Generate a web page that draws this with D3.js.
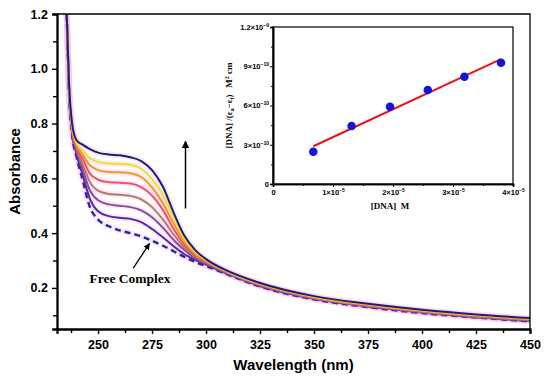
<!DOCTYPE html>
<html>
<head>
<meta charset="utf-8">
<script src="https://cdn.jsdelivr.net/npm/d3@7.9.0/dist/d3.min.js"></script>
<style>
  body { margin: 0; background: #fff; }
  svg { display: block; }
  .tick text { font-family: Arial, "Liberation Sans", sans-serif; font-weight: bold; }
</style>
</head>
<body>
<svg id="chart" width="550" height="381"></svg>
<script>
// titration spectra
let wavelengths = [235.5, 236.5, 238, 240, 243, 246, 250, 255, 260, 265, 270, 275, 280, 285, 290, 295, 300, 310, 325, 350, 375, 400, 425, 450];
let specNavy   = [1.2, 0.96, 0.80, 0.74, 0.722, 0.708, 0.694, 0.687, 0.684, 0.677, 0.663, 0.63, 0.57, 0.475, 0.39, 0.338, 0.305, 0.262, 0.218, 0.17, 0.142, 0.12, 0.103, 0.09];
let specYellow = [1.2, 0.955, 0.79, 0.73, 0.70, 0.675, 0.66, 0.654, 0.653, 0.65, 0.635, 0.597, 0.54, 0.455, 0.378, 0.331, 0.302, 0.26, 0.216, 0.168, 0.14, 0.118, 0.101, 0.088];
let specOrange = [1.2, 0.95, 0.785, 0.725, 0.685, 0.65, 0.63, 0.623, 0.622, 0.619, 0.605, 0.567, 0.51, 0.435, 0.368, 0.325, 0.298, 0.258, 0.214, 0.166, 0.138, 0.116, 0.099, 0.086];
let specRed    = [1.2, 0.945, 0.78, 0.715, 0.67, 0.62, 0.595, 0.586, 0.584, 0.581, 0.568, 0.537, 0.485, 0.415, 0.358, 0.32, 0.295, 0.256, 0.212, 0.164, 0.136, 0.114, 0.097, 0.084];
let specBrown  = [1.2, 0.94, 0.775, 0.71, 0.65, 0.59, 0.555, 0.543, 0.54, 0.536, 0.523, 0.495, 0.45, 0.395, 0.348, 0.314, 0.292, 0.255, 0.211, 0.163, 0.135, 0.113, 0.096, 0.083];
let specMauve  = [1.2, 0.935, 0.77, 0.70, 0.63, 0.56, 0.52, 0.505, 0.50, 0.495, 0.483, 0.458, 0.42, 0.375, 0.338, 0.308, 0.289, 0.253, 0.209, 0.161, 0.133, 0.111, 0.094, 0.081];
let specIndigo = [1.2, 0.93, 0.765, 0.69, 0.61, 0.53, 0.48, 0.462, 0.456, 0.452, 0.44, 0.415, 0.385, 0.352, 0.323, 0.302, 0.285, 0.251, 0.207, 0.16, 0.132, 0.11, 0.093, 0.08];
let specFree   = [1.2, 0.925, 0.76, 0.68, 0.59, 0.50, 0.45, 0.425, 0.41, 0.40, 0.388, 0.372, 0.354, 0.334, 0.313, 0.295, 0.28, 0.249, 0.205, 0.158, 0.13, 0.108, 0.092, 0.078];

let xTicks = [250, 275, 300, 325, 350, 375, 400, 425, 450];
let yTicks = [0.2, 0.4, 0.6, 0.8, 1.0, 1.2];

// inset: [DNA] vs [DNA]/(ea-ef)
let dnaConc = [0.672e-5, 1.31e-5, 1.95e-5, 2.58e-5, 3.19e-5, 3.80e-5];
let dnaRatio = [2.47e-10, 4.43e-10, 5.91e-10, 7.18e-10, 8.20e-10, 9.27e-10];
let insetXTicks = [0, 1e-5, 2e-5, 3e-5, 4e-5];
let insetXLabels = [['0', ''], ['1×10', '−5'], ['2×10', '−5'], ['3×10', '−5'], ['4×10', '−5']];
let insetYTicks = [0, 3e-10, 6e-10, 9e-10, 1.2e-9];
let insetYLabels = [['0', ''], ['3×10', '−10'], ['6×10', '−10'], ['9×10', '−10'], ['1.2×10', '−9']];

let series = [
  { values: specFree, color: '#26269e', dash: '6,4' },
  { values: specIndigo, color: '#5626a6' },
  { values: specMauve, color: '#8a4c9c' },
  { values: specBrown, color: '#b37a62' },
  { values: specRed, color: '#f2506a' },
  { values: specOrange, color: '#f79426' },
  { values: specYellow, color: '#e6e42c' },
  { values: specNavy, color: '#1c1c7c' },
];

const svg = d3.select('#chart');
const m = { left: 57, right: 530, top: 14, bottom: 329 };

let x = d3.scaleLinear().domain([231, 450]).range([m.left, m.right]);
let y = d3.scaleLinear().domain([0.05, 1.2]).range([m.bottom, m.top]);

svg.append('defs').append('clipPath').attr('id', 'clip')
  .append('rect').attr('x', m.left).attr('y', m.top)
  .attr('width', m.right - m.left).attr('height', m.bottom - m.top);

let arrowDefs = svg.select('defs');
arrowDefs.append('marker').attr('id', 'head')
  .attr('viewBox', '0 0 10 10').attr('refX', 9).attr('refY', 5)
  .attr('markerWidth', 5).attr('markerHeight', 6).attr('orient', 'auto')
  .append('path').attr('d', 'M0,0 L10,5 L0,10 z').attr('fill', '#000');

let line = d3.line()
  .x((d, i) => x(wavelengths[i]))
  .y((d) => y(d))
  .curve(d3.curveMonotoneX);

let plot = svg.append('g').attr('clip-path', 'url(#clip)');

// faint pink halo seen around the spectra
series.forEach((s) => {
  plot.append('path').attr('d', line(s.values))
    .attr('fill', 'none').attr('stroke', '#f6c6ee').attr('stroke-opacity', 0.35)
    .attr('stroke-width', 6);
});
series.forEach((s) => {
  plot.append('path').attr('d', line(s.values))
    .attr('fill', 'none').attr('stroke', s.color)
    .attr('stroke-width', s.dash ? 2.4 : 2)
    .attr('stroke-dasharray', s.dash || null);
});

// axes
let xAxis = svg.append('g').attr('transform', `translate(0,${m.bottom})`)
  .call(d3.axisBottom(x).tickValues(xTicks).tickSize(5).tickPadding(4));
let xMinor = svg.append('g').attr('transform', `translate(0,${m.bottom})`)
  .call(d3.axisBottom(x).tickValues(d3.range(237.5, 450, 25)).tickSize(4).tickFormat(''));
let yAxis = svg.append('g').attr('transform', `translate(${m.left},0)`)
  .call(d3.axisLeft(y).tickValues(yTicks).tickSize(5).tickPadding(4).tickFormat(d3.format('.1f')));
let yMinor = svg.append('g').attr('transform', `translate(${m.left},0)`)
  .call(d3.axisLeft(y).tickValues([0.1, 0.3, 0.5, 0.7, 0.9, 1.1]).tickSize(4).tickFormat(''));

[xAxis, xMinor, yAxis, yMinor].forEach((g) => {
  g.select('.domain').attr('stroke-width', 1.8);
  g.selectAll('.tick line').attr('stroke-width', 1.4);
});
xAxis.selectAll('.tick text').attr('font-size', 12.5).attr('dy', '0.9em');
yAxis.selectAll('.tick text').attr('font-size', 12.5);

// frame top + right
svg.append('path')
  .attr('d', `M${m.left},${m.top} H${m.right} V${m.bottom}`)
  .attr('fill', 'none').attr('stroke', '#000').attr('stroke-width', 1.3);

svg.append('text')
  .attr('x', (m.left + m.right) / 2).attr('y', 370)
  .attr('text-anchor', 'middle')
  .attr('font-family', 'Arial, sans-serif').attr('font-weight', 'bold').attr('font-size', 15)
  .text('Wavelength (nm)');
svg.append('text')
  .attr('transform', `translate(20,${(m.top + m.bottom) / 2}) rotate(-90)`)
  .attr('text-anchor', 'middle')
  .attr('font-family', 'Arial, sans-serif').attr('font-weight', 'bold').attr('font-size', 15)
  .text('Absorbance');

// arrows
svg.append('line')
  .attr('x1', x(290.5)).attr('y1', y(0.49)).attr('x2', x(290.5)).attr('y2', y(0.735))
  .attr('stroke', '#000').attr('stroke-width', 1.5).attr('marker-end', 'url(#head)');
svg.append('line')
  .attr('x1', x(266.3)).attr('y1', y(0.272)).attr('x2', x(273.8)).attr('y2', y(0.362))
  .attr('stroke', '#000').attr('stroke-width', 1.3).attr('marker-end', 'url(#head)');
svg.append('text')
  .attr('x', 130).attr('y', 283).attr('text-anchor', 'middle')
  .attr('font-family', '"Liberation Serif", "Times New Roman", serif')
  .attr('font-weight', 'bold').attr('font-size', 13.5)
  .text('Free Complex');

// ---- inset ----
const im = { left: 273, right: 513, top: 27, bottom: 184 };
let ix = d3.scaleLinear().domain([0, 4e-5]).range([im.left, im.right]);
let iy = d3.scaleLinear().domain([0, 1.2e-9]).range([im.bottom, im.top]);
let inset = svg.append('g');

inset.append('rect').attr('x', im.left).attr('y', im.top)
  .attr('width', im.right - im.left).attr('height', im.bottom - im.top)
  .attr('fill', '#fff').attr('stroke', '#000').attr('stroke-width', 1.2);

let ixAxis = inset.append('g').attr('transform', `translate(0,${im.bottom})`)
  .call(d3.axisBottom(ix).tickValues(insetXTicks).tickSize(3).tickPadding(2).tickFormat(''));
inset.append('g').attr('transform', `translate(0,${im.bottom})`)
  .call(d3.axisBottom(ix).tickValues([0.5e-5, 1.5e-5, 2.5e-5, 3.5e-5]).tickSize(2).tickFormat(''));
let iyAxis = inset.append('g').attr('transform', `translate(${im.left},0)`)
  .call(d3.axisLeft(iy).tickValues(insetYTicks).tickSize(3).tickPadding(2).tickFormat(''));
inset.append('g').attr('transform', `translate(${im.left},0)`)
  .call(d3.axisLeft(iy).tickValues([1.5e-10, 4.5e-10, 7.5e-10, 10.5e-10]).tickSize(2).tickFormat(''));
inset.selectAll('.domain').attr('stroke-width', 1.6);

// tick labels with superscript exponents
function supLabel(sel, lab) {
  sel.append('tspan').text(lab[0]);
  if (lab[1]) sel.append('tspan').attr('font-size', 5).attr('dy', -3).text(lab[1]);
}
ixAxis.selectAll('.tick').each(function (d, i) {
  let t = d3.select(this).append('text').attr('y', 11).attr('fill', '#000')
    .attr('text-anchor', 'middle').attr('font-size', 7.5);
  supLabel(t, insetXLabels[i]);
});
iyAxis.selectAll('.tick').each(function (d, i) {
  let t = d3.select(this).append('text').attr('x', -4).attr('dy', '0.32em').attr('fill', '#000')
    .attr('text-anchor', 'end').attr('font-size', 7.5);
  supLabel(t, insetYLabels[i]);
});

// least squares fit line
let mx = d3.mean(dnaConc), my = d3.mean(dnaRatio);
let sxy = d3.sum(dnaConc, (v, i) => (v - mx) * (dnaRatio[i] - my));
let sxx = d3.sum(dnaConc, (v) => (v - mx) * (v - mx));
let slope = sxy / sxx, icpt = my - slope * mx;
let xEnds = d3.extent(dnaConc);
inset.append('line')
  .attr('x1', ix(xEnds[0])).attr('y1', iy(icpt + slope * xEnds[0]))
  .attr('x2', ix(xEnds[1])).attr('y2', iy(icpt + slope * xEnds[1]))
  .attr('stroke', '#e8141c').attr('stroke-width', 2);

inset.selectAll('circle').data(dnaConc).join('circle')
  .attr('cx', (d) => ix(d)).attr('cy', (d, i) => iy(dnaRatio[i]))
  .attr('r', 4.3).attr('fill', '#1515d6');

let serif = '"Liberation Serif", "Times New Roman", serif';
inset.append('text').attr('x', 390).attr('y', 209).attr('text-anchor', 'middle')
  .attr('font-family', serif).attr('font-weight', 'bold').attr('font-size', 9)
  .attr('xml:space', 'preserve').text('[DNA]  M');
let yl = inset.append('text')
  .attr('transform', `translate(232,${(im.top + im.bottom) / 2}) rotate(-90)`)
  .attr('text-anchor', 'middle')
  .attr('font-family', serif).attr('font-weight', 'bold').attr('font-size', 9)
  .attr('xml:space', 'preserve');
yl.append('tspan').text('[DNA] /(ε');
yl.append('tspan').attr('font-size', 6).attr('dy', 2).text('a');
yl.append('tspan').attr('dy', -2).text('−ε');
yl.append('tspan').attr('font-size', 6).attr('dy', 2).text('f');
yl.append('tspan').attr('dy', -2).text(')   M');
yl.append('tspan').attr('font-size', 6).attr('dy', -3).text('2');
yl.append('tspan').attr('dy', 3).text(' cm');
</script>
</body>
</html>
